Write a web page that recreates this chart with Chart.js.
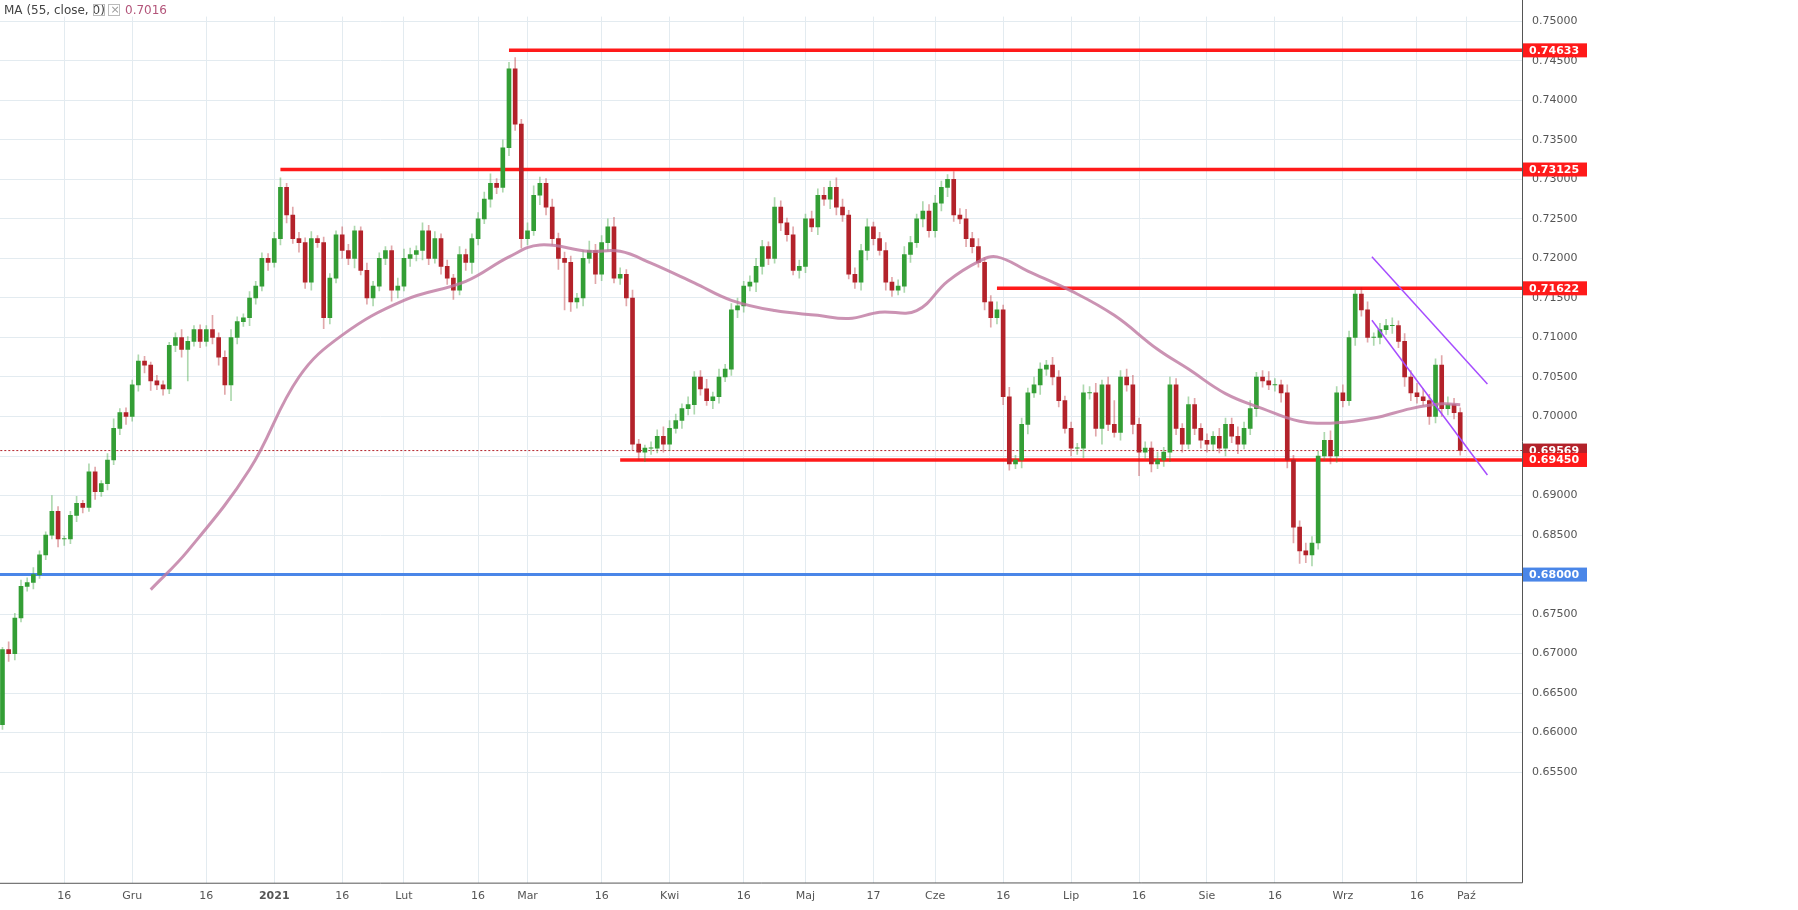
<!DOCTYPE html>
<html><head><meta charset="utf-8">
<script src="https://cdn.jsdelivr.net/npm/chart.js@4/dist/chart.umd.min.js"></script>
<style>html,body{margin:0;padding:0;background:#fff}#w{width:1798px;height:910px}</style>
</head><body><div id="w"><canvas id="c"></canvas></div>
<script>
// Daily closes by month (Nov 2020 - Sep 2021)
const firstOpen = 0.6610;
const closeNov = [0.6705,0.6700,0.6745,0.6785,0.6790,0.6800,0.6825,0.6850,0.6880,0.6845,0.6845,0.6875,0.6890,0.6885,0.6930,0.6905,0.6915,0.6945,0.6985,0.7005,0.7000];
const closeDec = [0.7040,0.7070,0.7065,0.7045,0.7040,0.7035,0.7090,0.7100,0.7085,0.7095,0.7110,0.7095,0.7110,0.7100,0.7075,0.7040,0.7100,0.7120,0.7125,0.7150,0.7165,0.7200,0.7195];
const closeJan = [0.7225,0.7290,0.7255,0.7225,0.7220,0.7170,0.7225,0.7220,0.7125,0.7175,0.7230,0.7210,0.7200,0.7235,0.7185,0.7150,0.7165,0.7200,0.7210,0.7160,0.7165];
const closeFeb = [0.7200,0.7205,0.7210,0.7235,0.7200,0.7225,0.7190,0.7175,0.7160,0.7205,0.7195,0.7225,0.7250,0.7275,0.7295,0.7290,0.7340,0.7440,0.7370,0.7225];
const closeMar = [0.7235,0.7280,0.7295,0.7265,0.7225,0.7200,0.7195,0.7145,0.7150,0.7200,0.7210,0.7180,0.7220,0.7240,0.7175,0.7180,0.7150,0.6965,0.6955,0.6960,0.6960,0.6975,0.6965];
const closeApr = [0.6985,0.6995,0.7010,0.7015,0.7050,0.7035,0.7020,0.7025,0.7050,0.7060,0.7135,0.7140,0.7165,0.7170,0.7190,0.7215,0.7200,0.7265,0.7245,0.7230,0.7185,0.7190];
const closeMay = [0.7250,0.7240,0.7280,0.7275,0.7290,0.7265,0.7255,0.7180,0.7170,0.7210,0.7240,0.7225,0.7210,0.7170,0.7160,0.7165,0.7205,0.7220,0.7250,0.7260,0.7235];
const closeJun = [0.7270,0.7290,0.7300,0.7255,0.7250,0.7225,0.7215,0.7195,0.7145,0.7125,0.7135,0.7025,0.6940,0.6945,0.6990,0.7030,0.7040,0.7060,0.7065,0.7050,0.7020,0.6985];
const closeJul = [0.6960,0.6960,0.7030,0.7030,0.6985,0.7040,0.6990,0.6980,0.7050,0.7040,0.6990,0.6955,0.6960,0.6940,0.6945,0.6955,0.7040,0.6985,0.6965,0.7015,0.6985,0.6970];
const closeAug = [0.6965,0.6975,0.6960,0.6990,0.6975,0.6965,0.6985,0.7010,0.7050,0.7045,0.7040,0.7040,0.7030,0.6945,0.6860,0.6830,0.6825,0.6840,0.6950,0.6970,0.6950,0.7030];
const closeSep = [0.7020,0.7100,0.7155,0.7135,0.7100,0.7100,0.7110,0.7115,0.7115,0.7095,0.7050,0.7030,0.7025,0.7020,0.7000,0.7065,0.7010,0.7015,0.7005,0.6957];
// wick lengths (pips) above / below the body
const wickUp = [3,10,6,8,6,9,5,4,20,6,4,5,9,4,10,6,4,8,12,5,6, 6,8,6,4,7,5,4,6,10,6,5,6,5,18,6,8,10,6,5,8,6,7,6, 8,12,5,10,8,6,9,4,7,6,5,10,8,6,5,9,6,7,5,6,10, 12,8,6,10,7,9,6,8,5,10,7,6,8,9,12,6,10,8,14,6, 10,12,8,6,10,7,8,8,6,10,12,8,9,10,12,8,6,10,6,4,8,8,12, 10,8,6,10,7,8,12,6,10,6,8,10,6,8,10,8,6,12,8,6,10,8, 6,10,8,10,8,12,10,6,8,8,10,6,8,10,6,8,10,8,6,12,8, 10,8,6,10,8,12,8,10,6,8,10,6,12,6,8,6,10,8,6,10,8,6, 8,6,10,8,12,6,10,30,8,10,12,8,8,8,10,6,10,8,6,10,8,6, 8,6,10,8,8,12,8,10,6,8,12,8,6,10,6,8,10,8,6,10,12,8, 10,8,6,8,10,6,8,8,10,6,10,8,12,10,8,8,12,10,8,6];
const wickDn = [6,10,8,5,6,8,5,6,5,10,8,6,8,7,5,10,6,8,6,8,10, 6,8,10,12,6,8,6,8,10,40,6,8,6,8,10,12,20,8,6,10,8,6,10, 6,8,10,6,12,8,10,6,14,8,6,10,8,12,6,8,10,6,8,14,10, 6,10,8,12,8,6,10,8,12,6,10,14,8,6,10,8,6,10,8,12, 8,6,12,10,8,14,60,12,8,10,6,12,8,10,6,8,10,8,10,12,8,6,10, 8,6,10,8,12,8,6,10,8,6,8,10,8,6,12,10,8,6,10,8,6,10, 8,6,10,8,12,10,8,6,8,10,12,8,6,10,8,6,8,10,6,10,8, 8,10,12,8,6,10,8,6,10,12,8,10,8,6,10,12,6,12,8,10,8,6, 10,8,12,8,10,20,8,6,10,8,12,30,8,10,6,8,12,8,10,6,8,10, 10,8,6,10,8,12,6,8,10,8,6,8,12,10,20,16,10,14,8,6,10,8, 8,6,10,8,6,10,8,6,10,8,12,10,8,6,10,8,10,8,8,6];
// 55-day MA: [index, value]
const maIdx = [24,30,40,48,55,65,75,82,87,95,100,105,112,118,125,132,137,142,148,153,158,161,166,173,180,187,192,198,204,210,216,222,228,233,236];
const maVal = [0.6781,0.6830,0.6933,0.7050,0.7103,0.7147,0.7171,0.7202,0.7217,0.7209,0.7209,0.7194,0.7169,0.7147,0.7134,0.7128,0.7124,0.7132,0.7134,0.7171,0.7196,0.7202,0.7184,0.7159,0.7128,0.7085,0.7060,0.7029,0.7010,0.6994,0.6992,0.6998,0.7010,0.7016,0.7015];
const maLabel = '0.7016';
// x-axis tick labels at first trading day index
const xTickIdx = [10,21,33,44,55,65,77,85,97,108,120,130,141,151,162,173,184,195,206,217,229,237];
const xTickLab = ['16','Gru','16','2021','16','Lut','16','Mar','16','Kwi','16','Maj','17','Cze','16','Lip','16','Sie','16','Wrz','16','Paź'];
// horizontal levels: value, start index, color
const levelVal = [0.74633,0.73125,0.71622,0.69450,0.68000];
const levelStart = [82,45,161,100,-1];
const levelColor = ['#ff1a1a','#ff1a1a','#ff1a1a','#ff1a1a','#4a86e8'];
const lastPrice = 0.69569;
const channelUpper = [[221.7,0.7202],[240.4,0.7041]];
const channelLower = [[221.7,0.71218],[240.4,0.69259]];

const closes = [].concat(closeNov,closeDec,closeJan,closeFeb,closeMar,closeApr,closeMay,closeJun,closeJul,closeAug,closeSep);
const body=[], wick=[], bCol=[], wCol=[];
closes.forEach((c,i)=>{
  const o = i===0?firstOpen:closes[i-1];
  const up = c>=o;
  const hi = Math.max(o,c)+wickUp[i%wickUp.length]*0.0001;
  const lo = Math.min(o,c)-wickDn[i%wickDn.length]*0.0001;
  body.push({x:i,y:[o, Math.abs(c-o)<0.00004 ? o+(up?0.00004:-0.00004) : c]});
  wick.push({x:i,y:[lo,hi]});
  bCol.push(up?'#339e35':'#b3222a');
  wCol.push(up?'rgba(51,158,53,0.4)':'rgba(179,34,42,0.4)');
});
const maData = maIdx.map((x,i)=>({x,y:maVal[i]}));
const ds = [
  {type:'bar',data:wick,backgroundColor:wCol,barThickness:1,grouped:false,order:3},
  {type:'bar',data:body,backgroundColor:bCol,barThickness:4,grouped:false,order:2},
  {type:'line',data:maData,borderColor:'rgba(190,120,160,0.8)',borderWidth:3,pointRadius:0,tension:0.4,order:1},
  {type:'line',data:channelUpper.map(p=>({x:p[0],y:p[1]})),borderColor:'#a64dff',borderWidth:1.5,pointRadius:0,order:0},
  {type:'line',data:channelLower.map(p=>({x:p[0],y:p[1]})),borderColor:'#a64dff',borderWidth:1.5,pointRadius:0,order:0},
];
levelVal.forEach((v,i)=>{
  ds.push({type:'line',data:[{x:levelStart[i],y:v},{x:246,y:v}],borderColor:levelColor[i],borderWidth:i===4?3:3.5,pointRadius:0,order:4});
});
ds.push({type:'line',data:[{x:-1,y:lastPrice},{x:246,y:lastPrice}],borderColor:'#b3222a',borderWidth:1,borderDash:[2,2],pointRadius:0,order:5});

const overlay = {
  id:'overlay',
  afterDraw(ch){
    const ctx=ch.ctx, y=ch.scales.y, a=ch.chartArea;
    ctx.save();
    const box=(v,bg,txt)=>{
      const py=y.getPixelForValue(v);
      ctx.fillStyle=bg; ctx.fillRect(a.right+1,py-7,64,14);
      ctx.fillStyle='#fff'; ctx.font='bold 11px "DejaVu Sans"'; ctx.textBaseline='middle'; ctx.textAlign='left';
      ctx.fillText(txt,a.right+7,py+0.5);
    };
    box(lastPrice,'#b3222a',lastPrice.toFixed(5));
    levelVal.forEach((v,i)=>box(v,levelColor[i],v.toFixed(5)));
    ctx.font='12px "DejaVu Sans"'; ctx.textAlign='left'; ctx.textBaseline='middle';
    ctx.fillStyle='#444'; ctx.fillText('MA (55, close, 0)',4,11);
    ctx.strokeStyle='#bbb'; ctx.lineWidth=1;
    ctx.strokeRect(93.5,4.5,11,11); ctx.strokeRect(108.5,4.5,11,11);
    ctx.fillStyle='#999'; ctx.font='11px "DejaVu Sans"'; ctx.fillText('×',110.5,10);
    ctx.fillStyle='#b3557a'; ctx.font='12px "DejaVu Sans"'; ctx.fillText(maLabel,125,11);
    ctx.strokeStyle='#555'; ctx.beginPath(); ctx.moveTo(a.right+0.5,0); ctx.lineTo(a.right+0.5,a.bottom); ctx.lineTo(0,a.bottom+0.5); ctx.stroke();
    ctx.restore();
  }
};

new Chart(document.getElementById('c'),{
  type:'bar',
  data:{datasets:ds},
  options:{
    responsive:true,maintainAspectRatio:false,animation:false,
    layout:{padding:0},
    plugins:{legend:{display:false},tooltip:{enabled:false}},
    scales:{
      x:{type:'linear',min:-0.4,max:246,offset:false,
        grid:{color:'#e3ebf0',offset:false,drawTicks:false},border:{display:false},
        afterBuildTicks(s){s.ticks=xTickIdx.map(v=>({value:v}));},
        ticks:{autoSkip:false,maxRotation:0,color:'#555',padding:7,
          font:c=>({family:'DejaVu Sans',size:11,weight:(c.tick&&c.tick.value===44)?'bold':'normal'}),
          callback:(v)=>xTickLab[xTickIdx.indexOf(v)]}},
      y:{position:'right',min:0.6410,max:0.7506,afterFit(s){s.width=276;},
        grid:{color:'#e3ebf0',drawTicks:false},border:{display:false},
        afterBuildTicks(s){const t=[];for(let k=0;k<=19;k++)t.push({value:+(0.655+k*0.005).toFixed(3)});s.ticks=t;},
        ticks:{color:'#555',font:{family:'DejaVu Sans',size:11},padding:10,callback:v=>v.toFixed(5)}}
    }
  },
  plugins:[overlay]
});
</script></body></html>
